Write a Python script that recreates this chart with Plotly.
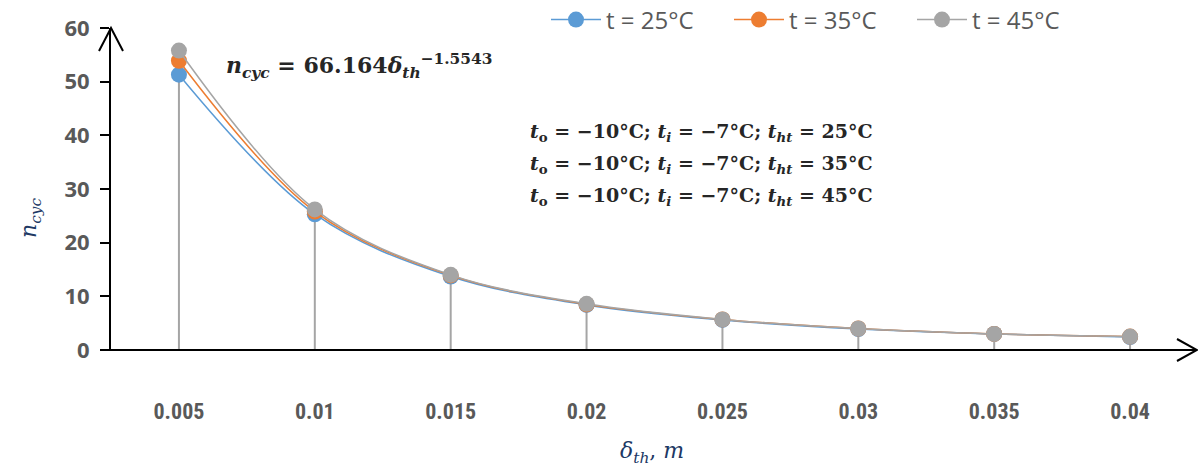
import plotly.graph_objects as go

categories = ["0.005", "0.01", "0.015", "0.02", "0.025", "0.03", "0.035", "0.04"]
t25 = [51.3, 25.3, 13.7, 8.4, 5.6, 3.9, 3.0, 2.4]
t35 = [53.9, 25.8, 13.9, 8.5, 5.7, 4.0, 3.0, 2.5]
t45 = [55.8, 26.2, 14.0, 8.6, 5.7, 4.0, 3.0, 2.5]
series_names = ["t = 25°C", "t = 35°C", "t = 45°C"]
colors = ["#5B9BD5", "#ED7D31", "#A5A5A5"]
conditions = ["25°C", "35°C", "45°C"]
y_ticks = [0, 10, 20, 30, 40, 50, 60]

W, H = 1198, 468
ML, MR, MT, MB = 111, 0, 28, 118

fig = go.Figure()

# drop lines from max point to axis
dx, dy = [], []
for c, a, b, g in zip(categories, t25, t35, t45):
    dx += [c, c, None]
    dy += [0, max(a, b, g), None]
fig.add_trace(go.Scatter(x=dx, y=dy, mode="lines", line=dict(color="#A5A5A5", width=2),
                         showlegend=False, hoverinfo="skip"))

for name, vals, col in zip(series_names, [t25, t35, t45], colors):
    fig.add_trace(go.Scatter(
        x=categories, y=vals, name=name, mode="lines+markers",
        line=dict(color=col, width=1.5, shape="spline", smoothing=1),
        marker=dict(color=col, size=16),
    ))

tickfont = dict(family="Liberation Sans Narrow, Roboto Condensed, Roboto, sans-serif",
                size=22, color="#595959", weight="bold")

fig.update_xaxes(type="category", categoryorder="array", categoryarray=categories,
                 range=[-0.5, 7.5], showline=False, showgrid=False, zeroline=False,
                 ticks="", tickfont=tickfont, ticklabelstandoff=46)
fig.update_yaxes(range=[0, 60], tickvals=y_ticks, showline=True, linecolor="black",
                 linewidth=2, ticks="outside", ticklen=9, tickwidth=2, tickcolor="black",
                 showgrid=False, zeroline=False, ticklabelstandoff=6,
                 tickfont=dict(family="Open Sans, Roboto, sans-serif", size=22,
                               color="#595959", weight="bold"))

pw = W - ML - MR
ph = H - MT - MB
def px(x):
    return (x - ML) / pw
def py(y):
    return (H - MB - y) / ph

shapes = [
    dict(type="line", xref="paper", yref="paper", x0=px(100), x1=px(1196), y0=0, y1=0,
         line=dict(color="black", width=2)),
    dict(type="path", xref="paper", yref="paper",
         path=f"M {px(1177)} {py(339)} L {px(1197)} {py(350)} L {px(1177)} {py(361)}",
         line=dict(color="black", width=2)),
    dict(type="path", xref="paper", yref="paper",
         path=f"M {px(99)} {py(51)} L {px(111)} {py(28)} L {px(123)} {py(51)}",
         line=dict(color="black", width=2)),
]

serif = "DejaVu Serif, Liberation Serif, serif"
annotations = [
    dict(xref="paper", yref="paper", x=px(224), y=py(66), xanchor="left", yanchor="middle",
         showarrow=False,
         text="<b><i>n</i><sub><i>cyc</i></sub> = 66.164<i>δ</i><sub><i>th</i></sub><sup>−1.5543</sup></b>",
         font=dict(family=serif, size=22, color="#262626")),
    dict(xref="paper", yref="paper", x=px(30), y=py(218), xanchor="center", yanchor="middle",
         showarrow=False, textangle=-90,
         text="<i>n</i><sub><i>cyc</i></sub>",
         font=dict(family=serif, size=22, color="#203864")),
    dict(xref="paper", yref="paper", x=px(652), y=py(452), xanchor="center", yanchor="middle",
         showarrow=False,
         text="<i>δ</i><sub><i>th</i></sub>, <i>m</i>",
         font=dict(family=serif, size=22, color="#203864")),
]
for i, cond in enumerate(conditions):
    annotations.append(dict(
        xref="paper", yref="paper", x=px(528), y=py(132 + 32 * i), xanchor="left", yanchor="middle",
        showarrow=False,
        text=f"<b><i>t</i><sub>o</sub> = −10°C; <i>t</i><sub><i>i</i></sub> = −7°C; <i>t</i><sub><i>ht</i></sub> = {cond}</b>",
        font=dict(family=serif, size=19, color="#262626")))

fig.update_layout(
    width=W, height=H,
    margin=dict(l=ML, r=MR, t=MT, b=MB, autoexpand=False),
    paper_bgcolor="white", plot_bgcolor="white",
    shapes=shapes, annotations=annotations,
    legend=dict(orientation="h", x=px(546), xanchor="left", y=py(20), yanchor="middle",
                font=dict(family="Open Sans, Roboto, sans-serif", size=24, color="#595959"),
                bgcolor="rgba(0,0,0,0)", itemwidth=50, entrywidth=118, entrywidthmode="pixels",
                traceorder="normal"),
    showlegend=True,
)

fig.write_html("out.html")
